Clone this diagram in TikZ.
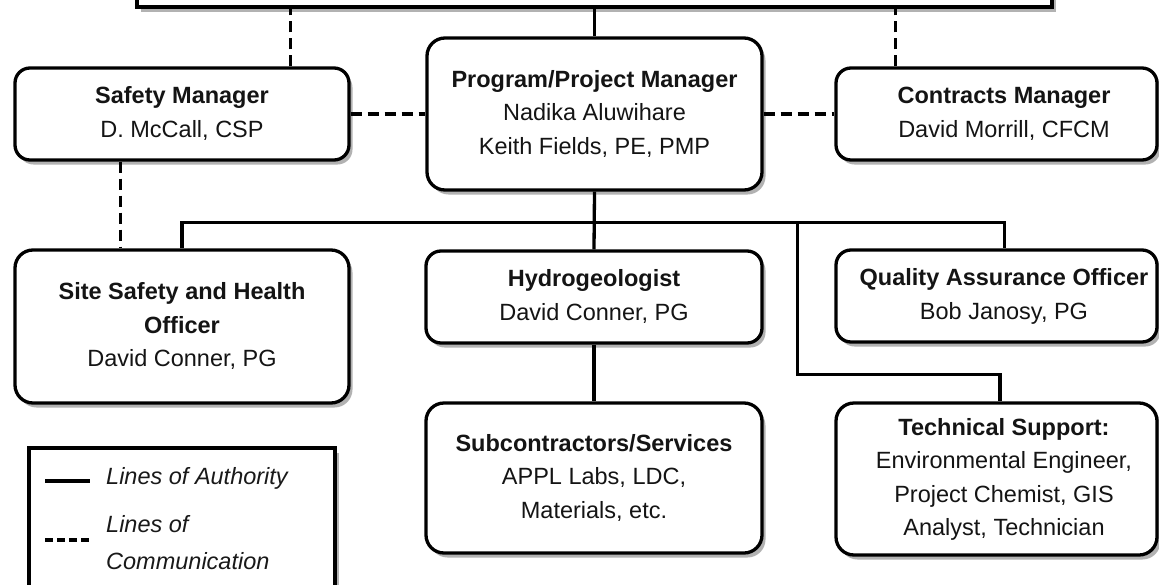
\documentclass[tikz,border=0pt]{standalone}
\usepackage{fontspec}
\setmainfont{Liberation Sans}
\usetikzlibrary{shadows,calc}
\newcommand\btext[2][0pt]{\begin{tabular}{@{\hspace{#1}}c@{}}#2\end{tabular}}
\begin{document}
\begin{tikzpicture}[x=1pt,y=-1pt,
  shadowed/.style={drop shadow={shadow xshift=3.5pt, shadow yshift=-4.5pt, fill=black!55, opacity=0.55}},
  box/.style={draw, line width=3.3pt, rounded corners=15pt, fill=white, inner sep=0pt, shadowed,
    font=\fontsize{23.5}{33.5}\selectfont, text=black!92},
  sqbox/.style={draw, line width=3.3pt, fill=white, inner sep=0pt, shadowed},
  auth/.style={line width=3.3pt},
  comm/.style={line width=3.3pt, dash pattern=on 11pt off 6pt},
  legtext/.style={font=\fontsize{23.5}{37}\selectfont\itshape, text=black!90, inner sep=0pt, align=left},
]
\useasboundingbox (0,0) rectangle (1159,584);

% nodes
\node[sqbox, minimum width=915pt, minimum height=100pt] (top) at (594.5,-43) {};
\node[box, minimum width=334pt, minimum height=92pt] (sm) at (182,114)
  {\btext{\textbf{Safety Manager}\\D. McCall, CSP}};
\node[box, rounded corners=18pt, minimum width=335pt, minimum height=152pt] (pm) at (594.5,114)
  {\btext{\textbf{Program/Project Manager}\\Nadika Aluwihare\\Keith Fields, PE, PMP}};
\node[box, minimum width=321pt, minimum height=92pt] (cm) at (996.5,114)
  {\btext[15pt]{\textbf{Contracts Manager}\\David Morrill, CFCM}};
\node[box, rounded corners=18pt, minimum width=334pt, minimum height=153pt] (ss) at (182,326.5)
  {\btext{\textbf{Site Safety and Health}\\\textbf{Officer}\\David Conner, PG}};
\node[box, minimum width=336pt, minimum height=92pt] (hy) at (594,297)
  {\btext{\textbf{Hydrogeologist}\\David Conner, PG}};
\node[box, minimum width=321pt, minimum height=92pt] (qa) at (996.5,296)
  {\btext[15pt]{\textbf{Quality Assurance Officer}\\Bob Janosy, PG}};
\node[box, rounded corners=18pt, minimum width=336pt, minimum height=150pt] (sc) at (594,478)
  {\btext{\textbf{Subcontractors/Services}\\APPL Labs, LDC,\\Materials, etc.}};
\node[box, rounded corners=18pt, minimum width=321pt, minimum height=152pt] (ts) at (996.5,479)
  {\btext[15pt]{\textbf{Technical Support:}\\Environmental Engineer,\\Project Chemist, GIS\\Analyst, Technician}};
\node[sqbox, minimum width=306pt, minimum height=200pt] (leg) at (182,548) {};

% communication lines
\coordinate (d1) at ($(sm.north east)+(-60,0)$);
\coordinate (d2) at ($(cm.north west)+(61,0)$);
\coordinate (d3) at ($(sm.south west)+(107,0)$);
\draw[comm] (d1) -- (d1 |- top.south);
\draw[comm] (d2) -- (d2 |- top.south);
\draw[comm] (sm.east) -- (pm.west);
\draw[comm] (pm.east) -- (cm.west);
\draw[comm] (d3) -- (d3 |- ss.north);

% authority lines
\coordinate (bus) at ($(pm.south)+(0,31)$);
\coordinate (qaN) at ($(qa.north)+(8,0)$);
\coordinate (tsN) at ($(ts.north)+(3.5,0)$);
\coordinate (b1) at ($(bus)+(203,0)$);
\draw[auth] (top.south) -- (pm.north);
\draw[auth] (pm.south) -- (hy.north);
\draw[auth] (ss.north) -- (ss.north |- bus) -- (qaN |- bus) -- (qaN);
\draw[auth] (b1) -- ++(0,152) -| (tsN);
\draw[auth] (hy.south) -- (sc.north);

% legend
\coordinate (la1) at (45,481);
\coordinate (la2) at (90,481);
\coordinate (lc1) at (45,540);
\coordinate (lc2) at (90,540);
\draw[auth] (la1) -- (la2);
\draw[line width=3.3pt, dash pattern=on 8pt off 4pt] (lc1) -- (lc2);
\node[legtext, anchor=west] (lt1) at (106,478) {Lines of Authority};
\node[legtext, anchor=west] (lt2) at (106,543) {Lines of\\Communication};
\end{tikzpicture}
\end{document}
